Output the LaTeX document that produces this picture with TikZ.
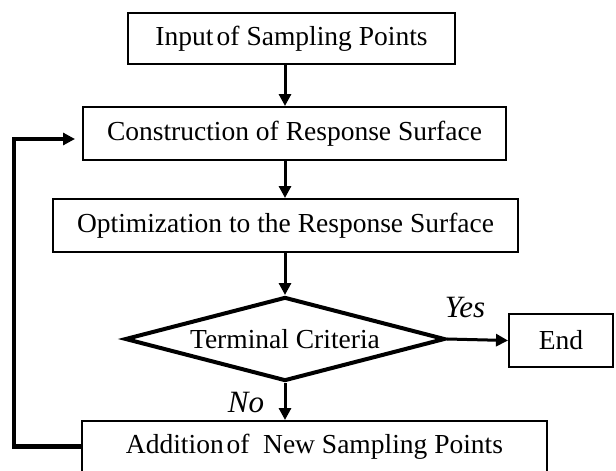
\documentclass[tikz,border=0pt]{standalone}
\usepackage{fontspec}
\setmainfont{Liberation Serif}
\usetikzlibrary{shapes.geometric,arrows.meta}
\begin{document}
\begin{tikzpicture}[x=1pt,y=-1pt,
  box/.style={draw=black,line width=2pt,rectangle,inner sep=0pt,anchor=center,
    font=\fontsize{27.5}{30}\selectfont},
  decbox/.style={draw=black,line width=4pt,diamond,aspect=3.8,inner sep=0pt,
    minimum width=320pt,minimum height=84pt,font=\fontsize{27.5}{30}\selectfont},
  arr/.style={line width=3pt,-{Triangle[length=12pt,width=12pt]}},
  fb/.style={line width=4.5pt,-{Triangle[length=12pt,width=12pt]}},
  lab/.style={font=\fontsize{31}{34}\selectfont\itshape,anchor=base,inner sep=0pt}]
\useasboundingbox (0,0) rectangle (616,471);
\fill[white] (0,0) rectangle (616,471);
\node[box,minimum width=327pt,minimum height=51pt] (inp) at (291.5,38.5) {Input\hspace{0.12em}of Sampling Points};
\node[box,minimum width=423pt,minimum height=53pt] (cons) at (294.5,133.5) {Construction of Response Surface};
\node[box,minimum width=465pt,minimum height=53pt] (opt) at (285.5,225.5) {Optimization to the Response Surface};
\node[decbox] (dec) at (285,339) {Terminal Criteria};
\node[box,minimum width=104pt,minimum height=53pt] (end) at (561,340.5) {End};
\node[box,minimum width=465pt,minimum height=51pt] (add) at (314.5,446.5) {Addition\hspace{0.1em}of\hspace{0.5em}New Sampling Points};
\node[lab] (yes) at (465,317) {Yes};
\node[lab] (no) at (246,412) {No};
\coordinate (fbbot) at (14,446.5);
\coordinate (fbtop) at (14,139);
\draw[arr] (inp.south -| dec.north) -- (cons.north -| dec.north);
\draw[arr] (cons.south -| dec.north) -- (opt.north -| dec.north);
\draw[arr] (opt.south -| dec.north) -- (dec.north);
\draw[arr] (dec.east) -- (end.west);
\draw[arr] (dec.south) -- (add.north -| dec.south);
\draw[fb,shorten >=7pt] (add.west) -- (fbbot) -- (fbtop) -- (fbtop -| cons.west);
\end{tikzpicture}
\end{document}
